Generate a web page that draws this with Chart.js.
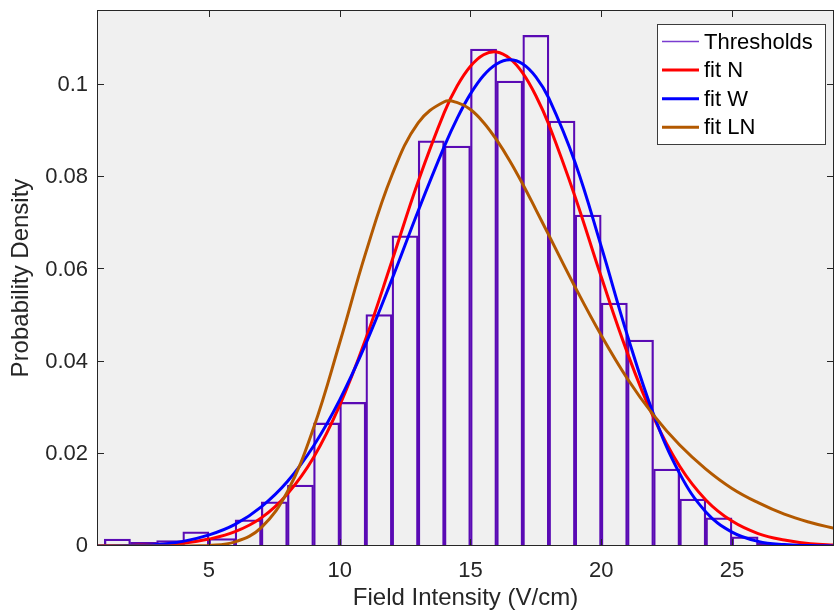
<!DOCTYPE html>
<html>
<head>
<meta charset="utf-8">
<script src="https://cdn.jsdelivr.net/npm/chart.js@4/dist/chart.umd.min.js"></script>
<style>
  body { margin: 0; background: #ffffff; }
  #marco { width: 835px; height: 614px; }
</style>
</head>
<body>
<div id="marco"><canvas id="grafico-umbrales" width="835" height="614"></canvas></div>
<script>
/* Histograma: centro de cada intervalo de 1 V/cm y su densidad */
var centrosBin = [1.5, 2.5, 3.5, 4.5, 5.5, 6.5, 7.5, 8.5, 9.5, 10.5, 11.5, 12.5, 13.5,
                  14.5, 15.5, 16.5, 17.5, 18.5, 19.5, 20.5, 21.5, 22.5, 23.5, 24.5, 25.5, 26.5];
var densidadBin = [0.0015, 0.0008, 0.0012, 0.0031, 0.0016, 0.0057, 0.0096, 0.0132, 0.0267, 0.0312,
                   0.0502, 0.0673, 0.0879, 0.0868, 0.1078, 0.1009, 0.1108, 0.0922, 0.0718, 0.0527,
                   0.0447, 0.0167, 0.0102, 0.0061, 0.0020, 0.0006];

/* Curvas de ajuste */
var xAjuste = [0.5, 1, 2, 3, 4, 5, 6, 7, 8, 9, 10, 11, 12, 13, 14, 14.5, 15, 15.5, 16, 16.5,
               17, 17.5, 18, 19, 20, 21, 22, 23, 24, 25, 26, 27, 28, 29];
var ajusteN = [0, 0.00003, 0.0001, 0.0003, 0.0006, 0.0015, 0.0031, 0.0061, 0.0113, 0.0192, 0.0305,
               0.0450, 0.0619, 0.0791, 0.0941, 0.0999, 0.1041, 0.1066, 0.1072, 0.1058,
               0.1026, 0.0977, 0.0914, 0.0758, 0.0584, 0.0419, 0.0279, 0.0173, 0.0100, 0.0054,
               0.0027, 0.0013, 0.0005, 0.0002];
var ajusteW = [0, 0.00001, 0.0001, 0.0003, 0.0010, 0.0024, 0.0047, 0.0085, 0.0140, 0.0217, 0.0317,
               0.0439, 0.0579, 0.0727, 0.0867, 0.0929, 0.0981, 0.1021, 0.1046, 0.1055,
               0.1046, 0.1018, 0.0971, 0.0832, 0.0650, 0.0457, 0.0286, 0.0157, 0.0074, 0.0030,
               0.0010, 0.0003, 0.0001, 0];
var ajusteLN = [0, 0, 0, 0, 0, 0.0001, 0.0009, 0.0040, 0.0118, 0.0256, 0.0441,
                0.0637, 0.0805, 0.0918, 0.0964, 0.0962, 0.0947, 0.0919, 0.0881, 0.0836,
                0.0785, 0.0730, 0.0674, 0.0562, 0.0457, 0.0363, 0.0284, 0.0219, 0.0167, 0.0125,
                0.0094, 0.0069, 0.0051, 0.0037];

/* Marcas de los ejes */
var marcasX = [5, 10, 15, 20, 25];
var etiquetasX = ['5', '10', '15', '20', '25'];
var marcasY = [0, 0.02, 0.04, 0.06, 0.08, 0.1];
var etiquetasY = ['0', '0.02', '0.04', '0.06', '0.08', '0.1'];

var nombres = ['Thresholds', 'fit N', 'fit W', 'fit LN'];
var colores = ['#5a0ab4', '#ff0000', '#0000ff', '#b35900'];

var fuente = "'Liberation Sans', Arial, Helvetica, sans-serif";

function puntos(xs, ys) {
    return xs.map(function (x, i) { return { x: x, y: ys[i] }; });
}

/* Fondo gris, caja de ejes con marcas hacia dentro y leyenda */
var cajaEjes = {
    id: 'cajaEjes',
    beforeDraw: function (chart) {
        var a = chart.chartArea;
        var ctx = chart.ctx;
        ctx.save();
        ctx.fillStyle = '#f0f0f0';
        ctx.fillRect(a.left, a.top, a.right - a.left, a.bottom - a.top);
        ctx.restore();
    },
    afterDatasetsDraw: function (chart) {
        var a = chart.chartArea;
        var ctx = chart.ctx;
        var ex = chart.scales.x, ey = chart.scales.y;
        var largo = 7;
        ctx.save();
        ctx.strokeStyle = '#262626';
        ctx.lineWidth = 1;
        ctx.strokeRect(a.left + 0.5, a.top + 0.5, a.right - a.left - 1, a.bottom - a.top - 1);
        ctx.beginPath();
        marcasX.forEach(function (v) {
            var p = Math.round(ex.getPixelForValue(v)) + 0.5;
            ctx.moveTo(p, a.bottom); ctx.lineTo(p, a.bottom - largo);
            ctx.moveTo(p, a.top); ctx.lineTo(p, a.top + largo);
        });
        marcasY.forEach(function (v) {
            var p = Math.round(ey.getPixelForValue(v)) - 0.5;
            ctx.moveTo(a.left, p); ctx.lineTo(a.left + largo, p);
            ctx.moveTo(a.right, p); ctx.lineTo(a.right - largo, p);
        });
        ctx.stroke();

        // leyenda
        var bx = 657.5, by = 24.5, bw = 168, bh = 120;
        ctx.fillStyle = '#ffffff';
        ctx.fillRect(bx, by, bw, bh);
        ctx.strokeStyle = '#3c3c3c';
        ctx.strokeRect(bx, by, bw, bh);
        ctx.font = '22px ' + fuente;
        ctx.textBaseline = 'middle';
        ctx.textAlign = 'left';
        nombres.forEach(function (n, i) {
            var yy = 41.5 + i * 28.6;
            ctx.beginPath();
            ctx.strokeStyle = i === 0 ? '#7a3cd0' : colores[i];
            ctx.lineWidth = i === 0 ? 1.5 : 3;
            ctx.moveTo(662, yy); ctx.lineTo(699, yy);
            ctx.stroke();
            ctx.fillStyle = '#000000';
            ctx.fillText(n, 704, yy + 1);
        });
        ctx.restore();
    }
};

var marco = document.getElementById('grafico-umbrales').getContext('2d');

var grafico = new Chart(marco, {
    type: 'bar',
    data: {
        datasets: [
            {
                type: 'bar',
                label: nombres[0],
                data: puntos(centrosBin, densidadBin),
                backgroundColor: 'rgba(0,0,0,0)',
                borderColor: colores[0],
                borderWidth: 1.6,
                borderSkipped: 'start',
                barPercentage: 1,
                categoryPercentage: 1,
                grouped: false,
                order: 10
            },
            {
                type: 'line',
                label: nombres[1],
                data: puntos(xAjuste, ajusteN),
                borderColor: colores[1],
                borderWidth: 3,
                pointRadius: 0,
                tension: 0.4,
                fill: false,
                order: 3
            },
            {
                type: 'line',
                label: nombres[2],
                data: puntos(xAjuste, ajusteW),
                borderColor: colores[2],
                borderWidth: 3,
                pointRadius: 0,
                tension: 0.4,
                fill: false,
                order: 2
            },
            {
                type: 'line',
                label: nombres[3],
                data: puntos(xAjuste, ajusteLN),
                borderColor: colores[3],
                borderWidth: 3,
                pointRadius: 0,
                tension: 0.4,
                fill: false,
                order: 1
            }
        ]
    },
    options: {
        responsive: false,
        animation: false,
        layout: { padding: { top: 10, right: 1, left: 0, bottom: 0 } },
        plugins: {
            legend: { display: false },
            tooltip: { enabled: false }
        },
        scales: {
            x: {
                type: 'linear',
                min: 0.72,
                max: 28.9,
                offset: false,
                grid: { display: false, drawTicks: false },
                border: { display: false },
                afterBuildTicks: function (s) { s.ticks = marcasX.map(function (v) { return { value: v }; }); },
                afterFit: function (s) { s.height = 68; s.paddingLeft = 0; s.paddingRight = 0; },
                ticks: {
                    padding: 12,
                    color: '#262626',
                    font: { family: fuente, size: 22 },
                    callback: function (v) { return etiquetasX[marcasX.indexOf(v)]; }
                },
                title: {
                    display: true,
                    text: 'Field Intensity (V/cm)',
                    color: '#262626',
                    font: { family: fuente, size: 24 },
                    padding: { top: 0, bottom: 1 }
                }
            },
            y: {
                min: 0,
                max: 0.1163,
                grid: { display: false, drawTicks: false },
                border: { display: false },
                afterBuildTicks: function (s) { s.ticks = marcasY.map(function (v) { return { value: v }; }); },
                afterFit: function (s) { s.width = 97; s.paddingTop = 0; s.paddingBottom = 0; },
                ticks: {
                    padding: 9,
                    color: '#262626',
                    font: { family: fuente, size: 22 },
                    callback: function (v) { return etiquetasY[marcasY.indexOf(v)]; }
                },
                title: {
                    display: true,
                    text: 'Probability Density',
                    color: '#262626',
                    font: { family: fuente, size: 24 },
                    padding: { top: 7, bottom: 0 }
                }
            }
        }
    },
    plugins: [cajaEjes]
});
</script>
</body>
</html>
